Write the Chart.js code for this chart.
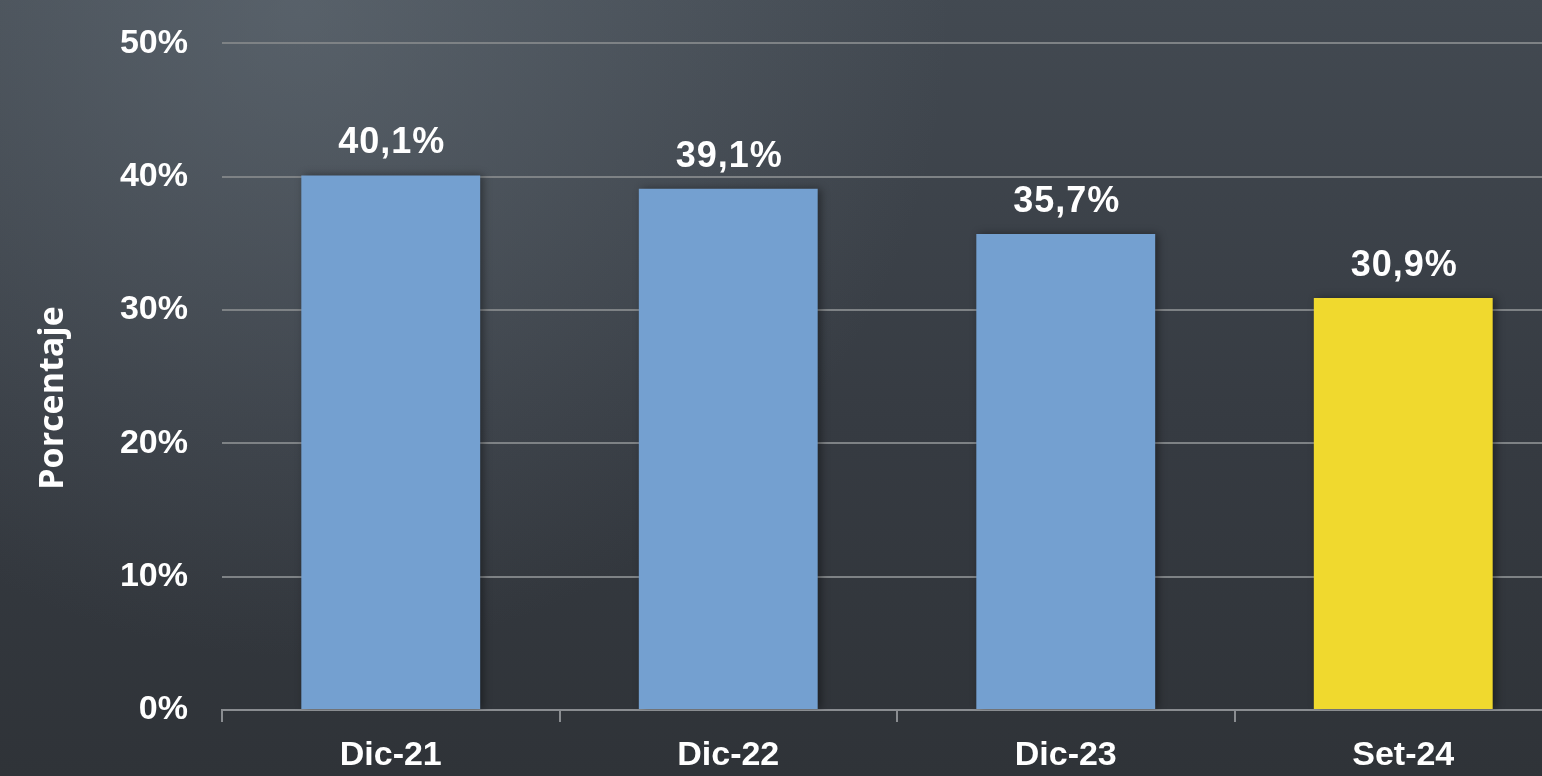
<!DOCTYPE html>
<html>
<head>
<meta charset="utf-8">
<script src="https://cdn.jsdelivr.net/npm/chart.js@4/dist/chart.umd.min.js"></script>
<style>
  html, body { margin: 0; padding: 0; overflow: hidden; background: #3a3f45; }
  #wrap { position: relative; width: 1572px; height: 787px; margin-top: -11px; }
</style>
</head>
<body>
<div id="wrap"><canvas id="chart" width="1572" height="787"></canvas></div>
<script>
// data
var periodos = ["Dic-21", "Dic-22", "Dic-23", "Set-24"];
var porcentajes = [40.1, 39.1, 35.7, 30.9];
var colores = ["#74a0d0", "#74a0d0", "#74a0d0", "#f0d92e"];
var yTicks = [0, 10, 20, 30, 40, 50];
var tituloY = "Porcentaje";

// dark gradient background
var fondo = {
    id: "fondo",
    beforeDraw: function(chart){
        var ctx = chart.ctx, w = chart.width, h = chart.height;
        ctx.save();
        var g = ctx.createLinearGradient(0, 0, 0, h);
        g.addColorStop(0, "#434a52");
        g.addColorStop(0.55, "#363b42");
        g.addColorStop(1, "#2f3338");
        ctx.fillStyle = g;
        ctx.fillRect(0, 0, w, h);
        var r = ctx.createRadialGradient(300, 20, 0, 300, 20, 650);
        r.addColorStop(0, "rgba(120,132,142,0.4)");
        r.addColorStop(1, "rgba(120,132,142,0)");
        ctx.fillStyle = r;
        ctx.fillRect(0, 0, w, h);
        ctx.restore();
    },
    afterDraw: function(chart){
        // y axis title
        var ctx = chart.ctx;
        ctx.save();
        ctx.translate(53, 409);
        ctx.rotate(-Math.PI / 2);
        ctx.fillStyle = "#ffffff";
        ctx.font = "bold 34px 'Open Sans', sans-serif";
        ctx.textAlign = "center";
        ctx.textBaseline = "middle";
        ctx.fillText(tituloY, 0, 0);
        ctx.restore();
    }
};

// value labels above the bars
var etiquetas = {
    id: "etiquetas",
    afterDatasetsDraw: function(chart){
        var ctx = chart.ctx;
        var meta = chart.getDatasetMeta(0);
        ctx.save();
        ctx.fillStyle = "#ffffff";
        ctx.font = "bold 36px 'Liberation Sans', Arial, sans-serif";
        ctx.letterSpacing = "1px";
        ctx.textAlign = "center";
        ctx.textBaseline = "alphabetic";
        meta.data.forEach(function(bar, i){
            var txt = porcentajes[i].toFixed(1).replace(".", ",") + "%";
            ctx.fillText(txt, bar.x + 1, bar.y - 22);
        });
        ctx.restore();
    }
};

// soft shadow on the bars
var sombra = {
    id: "sombra",
    beforeDatasetsDraw: function(chart){
        chart.ctx.save();
        chart.ctx.shadowColor = "rgba(0,0,0,0.4)";
        chart.ctx.shadowBlur = 8;
        chart.ctx.shadowOffsetX = 3;
        chart.ctx.shadowOffsetY = 0;
    },
    afterDatasetsDraw: function(chart){
        chart.ctx.restore();
    }
};

var chart = new Chart("chart", {
    type: "bar",
    data: {
        labels: periodos,
        datasets: [{
            data: porcentajes,
            backgroundColor: colores,
            borderWidth: 0,
            barPercentage: 0.53,
            categoryPercentage: 1
        }]
    },
    options: {
        responsive: false,
        animation: false,
        layout: { padding: { top: 32, left: 0, right: 0, bottom: 0 } },
        plugins: {
            legend: { display: false },
            tooltip: { enabled: false }
        },
        scales: {
            x: {
                offset: true,
                grid: {
                    offset: true,
                    drawOnChartArea: false,
                    drawTicks: true,
                    tickLength: 12,
                    color: "#8a8d91",
                    lineWidth: 2
                },
                border: { display: true, color: "#8a8d91", width: 2 },
                ticks: {
                    color: "#ffffff",
                    padding: 13,
                    font: { family: "'Liberation Sans', Arial, sans-serif", size: 34, weight: "bold" }
                },
                afterFit: function(scale){ scale.height = 66; }
            },
            y: {
                min: 0,
                max: 50,
                afterBuildTicks: function(scale){
                    scale.ticks = yTicks.map(function(v){ return { value: v }; });
                },
                grid: {
                    color: "#7e8285",
                    lineWidth: 2,
                    drawTicks: false
                },
                border: { display: false },
                ticks: {
                    color: "#ffffff",
                    padding: 34,
                    font: { family: "'Liberation Sans', Arial, sans-serif", size: 34, weight: "bold" },
                    callback: function(v){ return v + "%"; }
                },
                afterFit: function(scale){ scale.width = 222; }
            }
        }
    },
    plugins: [fondo, sombra, etiquetas]
});
</script>
</body>
</html>
